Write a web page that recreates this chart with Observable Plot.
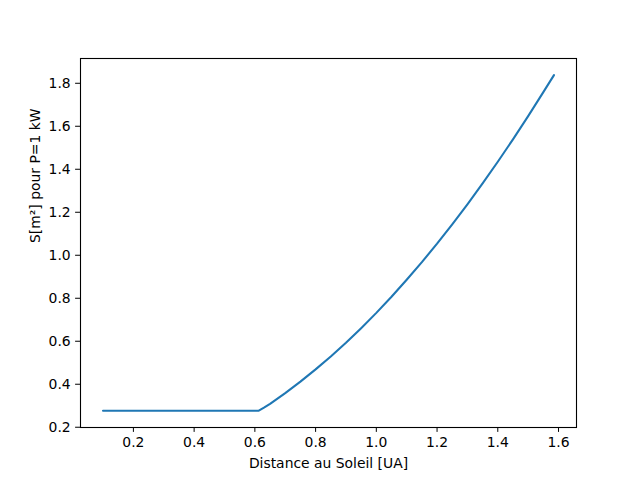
<!DOCTYPE html>
<html>
<head>
<meta charset="utf-8">
<script src="https://cdn.jsdelivr.net/npm/d3@7"></script>
<script src="https://cdn.jsdelivr.net/npm/@observablehq/plot@0.6"></script>
<style>
  body { margin: 0; background: #fff; }
</style>
</head>
<body>
<div id="chart"></div>
<script>
const distance = [0.10, 0.20, 0.30, 0.40, 0.50, 0.60, 0.613, 0.63, 0.65, 0.70, 0.75, 0.80, 0.85, 0.90, 0.95, 1.00, 1.05, 1.10, 1.15, 1.20, 1.25, 1.30, 1.35, 1.40, 1.45, 1.50, 1.55, 1.585];
const surface  = [0.277, 0.277, 0.277, 0.277, 0.277, 0.277, 0.277, 0.291, 0.309, 0.359, 0.412, 0.469, 0.529, 0.593, 0.661, 0.732, 0.807, 0.886, 0.968, 1.054, 1.144, 1.237, 1.334, 1.435, 1.539, 1.647, 1.759, 1.838];
const xTicks = [0.2, 0.4, 0.6, 0.8, 1.0, 1.2, 1.4, 1.6];
const yTicks = [0.2, 0.4, 0.6, 0.8, 1.0, 1.2, 1.4, 1.6, 1.8];
const xLabel = "Distance au Soleil [UA]";
const yLabel = "S[m²] pour P=1 kW";

const data = distance.map((d, i) => ({d, s: surface[i]}));

const chart = Plot.plot({
  width: 640,
  height: 480,
  marginLeft: 80,
  marginRight: 64,
  marginTop: 58,
  marginBottom: 53,
  style: {fontFamily: "DejaVu Sans", fontSize: "13.9px", background: "#fff"},
  x: {domain: [0.0258, 1.6592]},
  y: {domain: [0.1988, 1.9152]},
  marks: [
    Plot.axisX({ticks: xTicks, tickSize: 4.9, tickPadding: 4.9, tickFormat: d3.format(".1f"), label: null, stroke: "black", fill: "black"}),
    Plot.axisY({ticks: yTicks, tickSize: 4.9, tickPadding: 4.9, tickFormat: d3.format(".1f"), label: null, stroke: "black", fill: "black"}),
    Plot.line(data, {x: "d", y: "s", stroke: "#1f77b4", strokeWidth: 2.08, curve: "linear"}),
    Plot.frame({stroke: "black", strokeWidth: 1.1}),
    Plot.text([xLabel], {frameAnchor: "bottom", dy: 36, lineAnchor: "middle", fill: "black"}),
    Plot.text([yLabel], {frameAnchor: "left", dx: -45, rotate: -90, lineAnchor: "middle", fill: "black"})
  ]
});
document.getElementById("chart").appendChild(chart);
</script>
</body>
</html>
